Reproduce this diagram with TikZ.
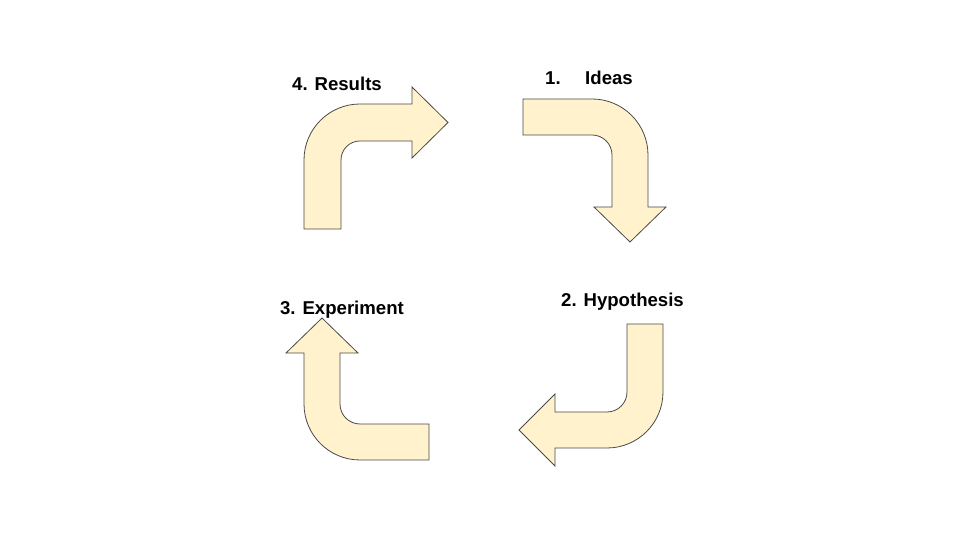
\documentclass[tikz,border=0pt]{standalone}
\usepackage{fontspec}
\setmainfont{Liberation Sans}
\definecolor{arrowfill}{HTML}{FFF2CC}
\definecolor{arrowline}{HTML}{4A4A4A}
\begin{document}
\begin{tikzpicture}[x=1pt,y=1pt,
  bentarrow/.style={fill=arrowfill,draw=arrowline,line width=0.8pt,line join=miter},
  lbl/.style={inner sep=0pt,font=\fontsize{18.6}{22}\selectfont\bfseries,text=black}]
\useasboundingbox (0,0) rectangle (960,540);
% 4. Results (up then right)
\path[bentarrow] (304,311) -- (304,380) arc[start angle=180,end angle=90,radius=56]
  -- (412,436) -- (412,453) -- (448,417.5) -- (412,382) -- (412,399) -- (360,399)
  arc[start angle=90,end angle=180,radius=19] -- (341,311) -- cycle;
% 1. Ideas (right then down)
\path[bentarrow] (523,441) -- (592,441) arc[start angle=90,end angle=0,radius=56]
  -- (648,333) -- (666,333) -- (630,298) -- (594,333) -- (612,333) -- (612,385)
  arc[start angle=0,end angle=90,radius=20] -- (523,405) -- cycle;
% 2. Hypothesis (down then left)
\path[bentarrow] (663,216) -- (663,148) arc[start angle=0,end angle=-90,radius=56]
  -- (555,92) -- (555,74) -- (519,110) -- (555,146) -- (555,128) -- (607,128)
  arc[start angle=-90,end angle=0,radius=20] -- (627,216) -- cycle;
% 3. Experiment (left then up)
\path[bentarrow] (429,80) -- (360,80) arc[start angle=-90,end angle=-180,radius=56]
  -- (304,187) -- (286,187) -- (322,222) -- (358,187) -- (340,187) -- (340,136)
  arc[start angle=180,end angle=270,radius=20] -- (429,116) -- cycle;
% labels
\node[lbl,anchor=base] (results) at (337,449) {4. Results};
\node[lbl,anchor=base west] (ideas) at (545,455.5) {1.\hspace*{24.5pt}Ideas};
\node[lbl,anchor=base] (hypothesis) at (622.5,233) {2. Hypothesis};
\node[lbl,anchor=base] (experiment) at (342,225) {3. Experiment};
\end{tikzpicture}
\end{document}
